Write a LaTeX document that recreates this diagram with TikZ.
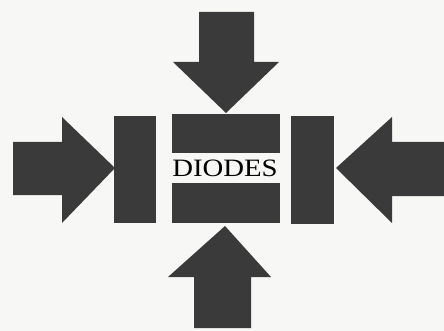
\documentclass[tikz,border=0pt]{standalone}
\usepackage{fontspec}
\setmainfont{Liberation Serif}
\definecolor{ink}{RGB}{58,58,58}
\definecolor{paper}{RGB}{247,247,245}
\tikzset{
  slab/.style={fill=ink},
  bigarrow/.style={fill=ink}
}
\begin{document}
\begin{tikzpicture}[x=1pt, y=-1pt]

\fill[paper] (0,0) rectangle (444,331);
\useasboundingbox (0,0) rectangle (444,331);

% diode blocks
\fill[slab] (114,116) rectangle (156,223);
\fill[slab] (291,116) rectangle (334,224);
\fill[slab] (172,114) rectangle (280,153);
\fill[slab] (172,183) rectangle (280,223);

\node (title) [anchor=base, inner sep=0pt, font=\fontsize{25}{25}\selectfont]
  at (225,177) {\scalebox{1.15}[1]{DIODES}};

% arrows pressing in
\fill[bigarrow] (199,12) -- (254,12) -- (254,62) -- (279,62) -- (226,113)
  -- (173,62) -- (199,62) -- cycle;
\fill[bigarrow] (194,328) -- (251,328) -- (251,277) -- (271,277) -- (225,226)
  -- (168,277) -- (194,277) -- cycle;
\fill[bigarrow] (13,142) -- (62,142) -- (62,117) -- (115,168) -- (62,223)
  -- (62,195) -- (13,195) -- cycle;
\fill[bigarrow] (444,142) -- (392,142) -- (392,117) -- (336,168) -- (392,223)
  -- (392,196) -- (444,196) -- cycle;

\end{tikzpicture}
\end{document}
